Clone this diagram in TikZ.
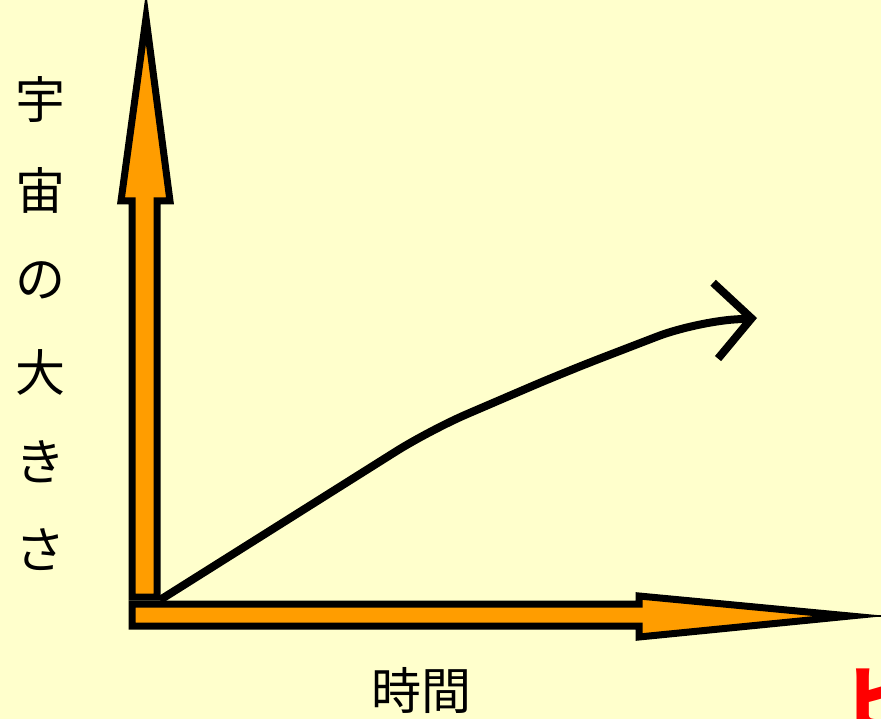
\documentclass[tikz,border=0pt]{standalone}
\usepackage{fontspec}
\newfontfamily\jpfont{Noto Sans CJK JP}
\usetikzlibrary{arrows.meta}
\definecolor{paper}{HTML}{FFFFCC}
\definecolor{axisfill}{HTML}{FF9D00}
\definecolor{ink}{HTML}{000000}
\definecolor{mark}{HTML}{FF0000}
\tikzset{
  uaaxis/.style  = {draw=ink, fill=axisfill, line width=7pt, line join=miter, miter limit=20},
  uathin/.style  = {draw=ink, line width=1.5pt},
  uacurve/.style = {draw=ink, line width=8pt, line join=round, rounded corners=40pt,
                    -{Straight Barb[length=36pt,width=76pt,line width=8pt]}},
  uachar/.style  = {font=\jpfont\fontsize{50}{50}\selectfont, text=ink, inner sep=0pt},
  uamark/.style  = {font=\jpfont\bfseries\fontsize{76}{76}\selectfont, text=mark, inner sep=0pt, anchor=west},
}

\begin{document}
\begin{tikzpicture}[x=1pt, y=-1pt]
\useasboundingbox (0,0) rectangle (881,719);
\clip (0,0) rectangle (881,719);
\fill[paper] (0,0) rectangle (881,719);

% vertical axis: size of the universe
\draw[uaaxis] (132,597) -- (132,201) -- (121,201) -- (146,18)
  -- (170,201) -- (157,201) -- (157,597) -- cycle;

% horizontal axis: time
\draw[uaaxis] (132,604) -- (639,604) -- (639,596) -- (850,616)
  -- (639,637) -- (639,626) -- (132,626) -- cycle;
\coordinate (Xtip) at (850,616);
\coordinate (Xend) at (881,616);
\draw[uathin] (Xtip) -- (Xend);

% growth curve
\coordinate (O)  at (160,600);
\coordinate (C1) at (430,430);
\coordinate (C2) at (565,372);
\coordinate (C3) at (695,322);
\coordinate (E)  at (757,318);
\draw[uacurve] (O) -- (C1) -- (C2) -- (C3) -- (E);

\foreach \i/\y/\ch in {1/100/宇, 2/190/宙, 3/280/の, 4/372/大, 5/462/き, 6/550/さ}{
  \node[uachar] (Y\i) at (40,\y) {\ch};
}
\node[uachar] (T) at (421,690) {時間};
\node[uamark] (R) at (842,700) {ヒ};
\end{tikzpicture}
\end{document}
